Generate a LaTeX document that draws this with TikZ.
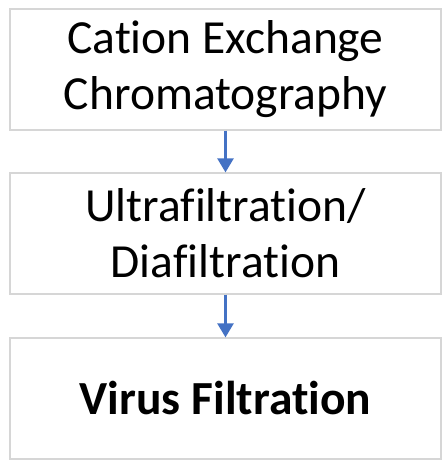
\documentclass[tikz,border=0pt]{standalone}
\usepackage{fontspec}
\setmainfont[Ligatures=NoCommon]{Carlito}
\usetikzlibrary{arrows.meta}
\definecolor{stepblue}{RGB}{68,114,196}
\definecolor{boxgray}{RGB}{214,214,214}

\begin{document}
\begin{tikzpicture}[x=1pt, y=-1pt]
        \useasboundingbox (0,0) rectangle (442,462);
        \tikzset{stepbox/.style={draw=boxgray, line width=1.2pt, minimum width=431pt, minimum height=121pt, inner sep=0pt, align=center, font=\fontsize{47.5}{56}\selectfont}}
        \node[stepbox] (cex) at (225.5,69.5){Cation Exchange\\Chromatography};
        \node[stepbox] (uf) at (225.5,233.5){Ultrafiltration/\\Diafiltration};
        \node[stepbox] (vf) at (225.5,398.5){\textbf{Virus Filtration}};
        %arrows
        \draw[-{Triangle[length=14pt,width=16pt]}, line width=2.5pt, stepblue] (cex) -- (uf);
        \draw[-{Triangle[length=14pt,width=16pt]}, line width=2.5pt, stepblue] (uf) -- (vf);
    \end{tikzpicture}
\end{document}
